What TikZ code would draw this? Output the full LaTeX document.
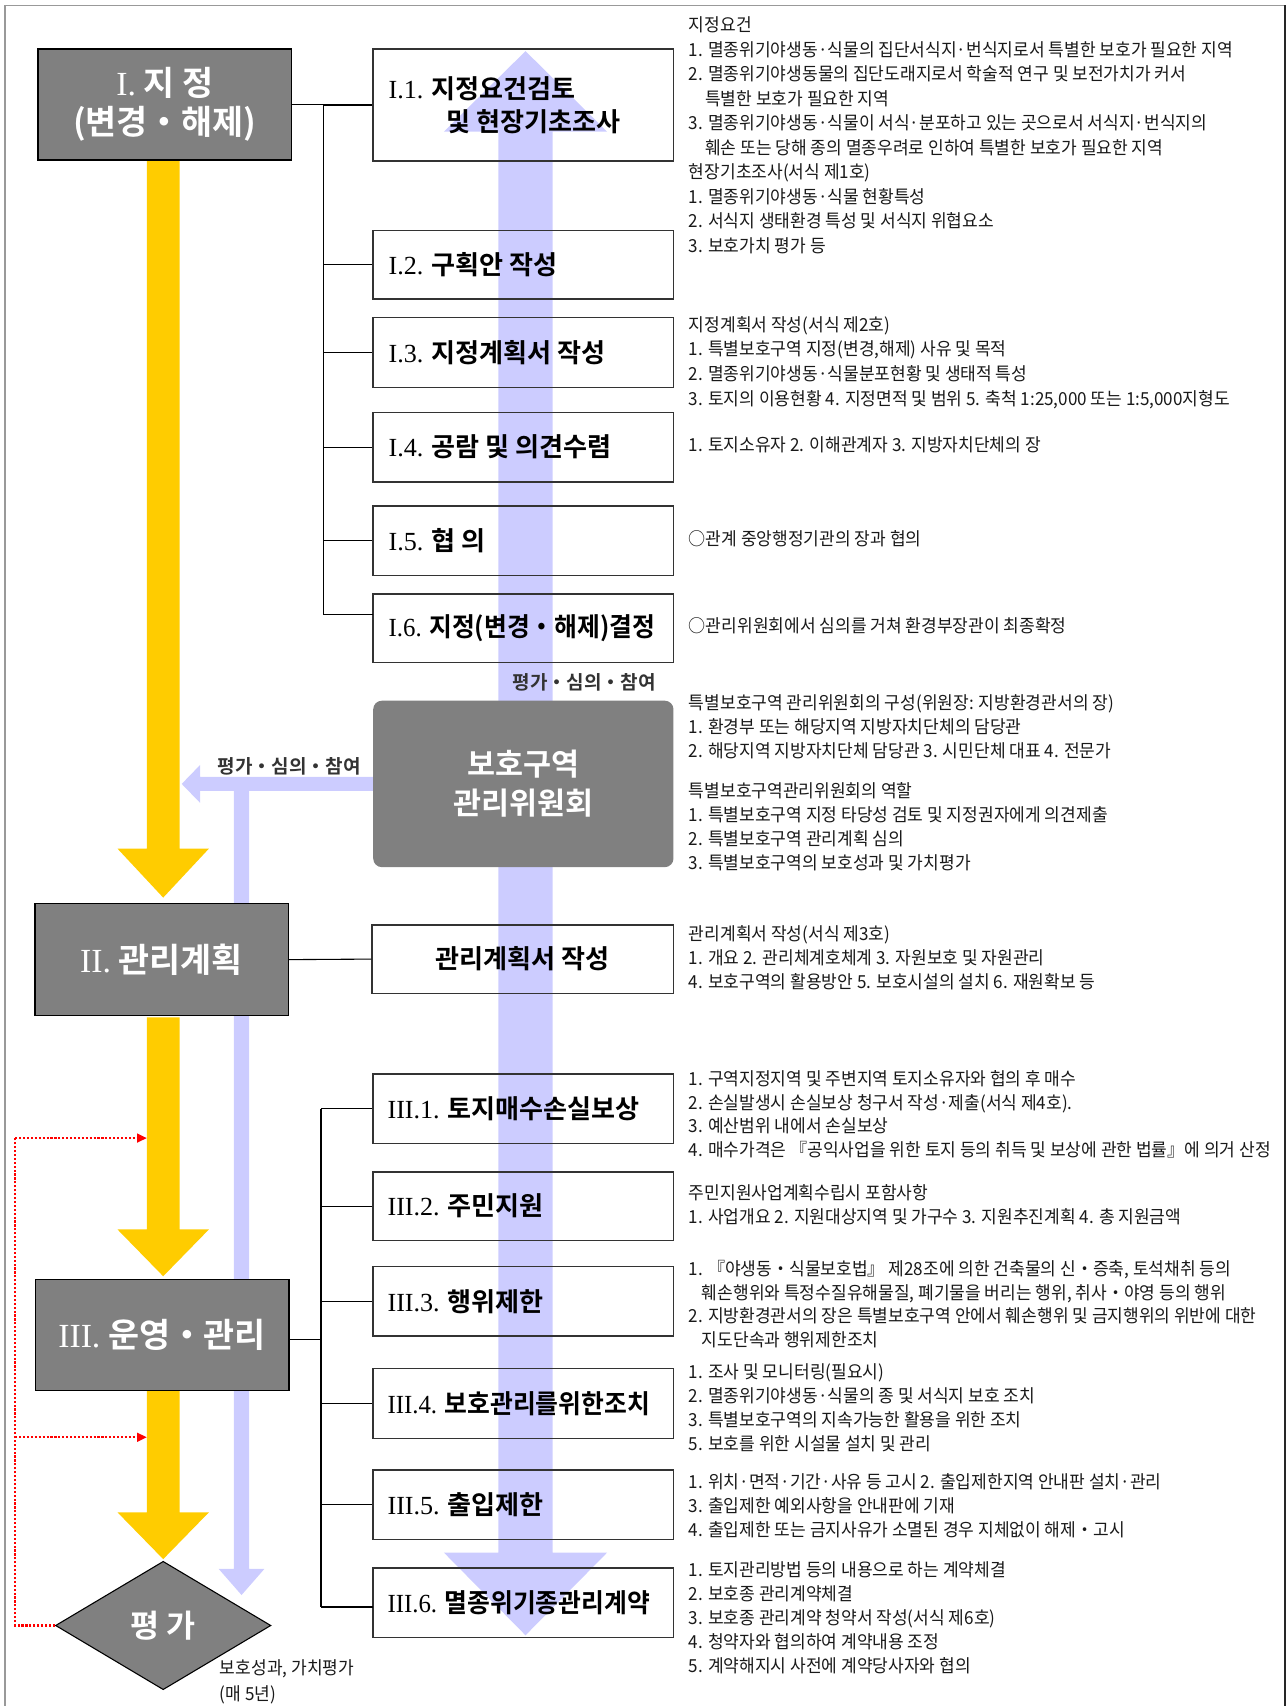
\documentclass[tikz,border=0pt]{standalone}
\usepackage{fontspec}
\usepackage{graphicx}
\setmainfont{Noto Sans CJK KR}
\newfontfamily\kr[FakeStretch=0.95]{Noto Sans CJK KR}
\newfontfamily\krb{Noto Sans CJK KR Bold}
\newfontfamily\lser{Liberation Serif}
\usetikzlibrary{arrows.meta,shapes.geometric}
\definecolor{ylw}{HTML}{FFCC00}
\definecolor{lav}{HTML}{CCCCFF}
\definecolor{dgray}{HTML}{808080}
\newcommand\tblk[5]{\foreach \tx [count=\ti] in {#5} {\node[rt] (#1\ti) at (#2, {#3+(\ti-1)*#4+6.3}) {\tx};}}
\begin{document}
\begin{tikzpicture}[x=1pt,y=-1pt,
  rbox/.style={draw=black!80, line width=1.3pt, minimum width=276pt, inner sep=0pt},
  mbox/.style={draw=black, line width=1.5pt, fill=dgray, minimum width=233pt, minimum height=102pt, inner sep=0pt, text=white, align=center, font=\krb\fontsize{31}{36}\selectfont},
  ttl/.style={anchor=west, inner sep=0pt, font=\krb\fontsize{24}{28}\selectfont},
  rt/.style={anchor=base west, inner sep=0pt, font=\kr\fontsize{16.5}{20}\selectfont, text=black!90},
  lbl/.style={inner sep=0pt, font=\krb\fontsize{17.5}{20}\selectfont, text=black!80},
  tree/.style={line width=1pt, black},
  reddot/.style={red, line width=2pt, dash pattern=on 2pt off 1.6pt},
  redarr/.style={reddot, -{Triangle[length=9pt,width=8pt]}}]
\useasboundingbox (0,0) rectangle (1183,1568);
% frame
\draw[black!40, line width=1pt] (4.6,1568) -- (4.6,5) -- (1181,5);
\draw[black!85, line width=1.3pt] (1181,5) -- (1181,1568);
% yellow arrows
\fill[ylw] (135,147) -- (135,780) -- (108,780) -- (150,825) -- (192,780) -- (165,780) -- (165,147) -- cycle;
\fill[ylw] (135,935) -- (135,1130) -- (108,1130) -- (150,1173) -- (192,1130) -- (165,1130) -- (165,935) -- cycle;
\fill[ylw] (135,1278) -- (135,1390) -- (108,1390) -- (150,1433) -- (192,1390) -- (165,1390) -- (165,1278) -- cycle;
% lavender arrows
\fill[lav] (458,720) -- (458,121) -- (408,121) -- (483,47) -- (558,121) -- (508,121) -- (508,720) -- cycle;
\fill[lav] (458,720) -- (458,1427) -- (408,1427) -- (483,1503) -- (558,1427) -- (508,1427) -- (508,720) -- cycle;
\fill[lav] (343,714) -- (184,714) -- (184,703) -- (167,720.5) -- (184,738) -- (184,727) -- (343,727) -- cycle;
\fill[lav] (215,720) -- (215,1442) -- (201,1442) -- (222,1466) -- (243,1442) -- (229,1442) -- (229,720) -- cycle;
% main left boxes
\node[mbox] (bI) at (151.5,96) {{\lser I.} 지 정\\(변경・해제)};
\node[mbox, minimum height=103pt] (bII) at (148.5,882) {{\lser II.} 관리계획};
\node[mbox] (bIII) at (149,1227) {{\lser III.} 운영・관리};
\node[diamond, draw=black, line width=1pt, fill=dgray, minimum width=198pt, minimum height=118pt, inner sep=0pt, aspect=1.68, text=white, font=\krb\fontsize{29}{30}\selectfont] (eval) at (150,1494) {평 가};
% committee
\node[fill=dgray, rounded corners=8pt, minimum width=276pt, minimum height=153pt, inner sep=0pt, text=white, align=center, font=\krb\fontsize{28}{36}\selectfont] (comm) at (481,720.5) {보호구역\\관리위원회};
% right boxes
\node[rbox, minimum height=103pt] (b11) at (481,96.5) {};
\node[rbox, minimum height=63pt] (b12) at (481,243.5) {};
\node[rbox, minimum height=64pt] (b13) at (481,324) {};
\node[rbox, minimum height=64pt] (b14) at (481,411) {};
\node[rbox, minimum height=64pt] (b15) at (481,497) {};
\node[rbox, minimum height=63pt] (b16) at (481,577.5) {};
\node[rbox, minimum width=277pt, minimum height=63pt, font=\krb\fontsize{24}{28}\selectfont] (b2) at (480.5,881.5) {관리계획서 작성};
\node[rbox, minimum height=64pt] (b31) at (481,1019) {};
\node[rbox, minimum height=63pt] (b32) at (481,1108.5) {};
\node[rbox, minimum height=64pt] (b33) at (481,1196) {};
\node[rbox, minimum height=64pt] (b34) at (481,1290) {};
\node[rbox, minimum height=64pt] (b35) at (481,1383) {};
\node[rbox, minimum height=64pt] (b36) at (481,1473) {};
% titles
\node[ttl] (b11t) at (357,82) {{\lser I.1.} 지정요건검토};
\node[ttl] (b11u) at (410,112) {및 현장기초조사};
\node[ttl] (b12t) at (357,243.5) {{\lser I.2.} 구획안 작성};
\node[ttl] (b13t) at (357,324) {{\lser I.3.} 지정계획서 작성};
\node[ttl] (b14t) at (357,411) {{\lser I.4.} 공람 및 의견수렴};
\node[ttl] (b15t) at (357,497) {{\lser I.5.} 협 의};
\node[ttl] (b16t) at (357,577.5) {\scalebox{0.95}[1]{{\lser I.6.} 지정(변경・해제)결정}};
\node[ttl] (b31t) at (356,1019) {{\lser III.1.} 토지매수손실보상};
\node[ttl] (b32t) at (356,1108.5) {{\lser III.2.} 주민지원};
\node[ttl] (b33t) at (356,1196) {{\lser III.3.} 행위제한};
\node[ttl] (b34t) at (356,1290) {\scalebox{0.95}[1]{{\lser III.4.} 보호관리를위한조치}};
\node[ttl] (b35t) at (356,1383) {{\lser III.5.} 출입제한};
\node[ttl] (b36t) at (356,1473) {\scalebox{0.95}[1]{{\lser III.6.} 멸종위기종관리계약}};
% tree connectors
\draw[tree] (bI.east) -- (297,96) -- (297,565);
\draw[tree] (297,96.5) -- (b11.west);
\draw[tree] (297,243.5) -- (b12.west);
\draw[tree] (297,324) -- (b13.west);
\draw[tree] (297,411) -- (b14.west);
\draw[tree] (297,497) -- (b15.west);
\draw[tree] (297,565) -- (343,565);
\draw[tree] (bII.east) -- (b2.west);
\draw[tree] ([yshift=-4pt]bIII.east) -- (295,1231);
\draw[tree] (295,1019) -- (295,1477);
\draw[tree] (295,1019) -- (b31.west);
\draw[tree] (295,1108.5) -- (b32.west);
\draw[tree] (295,1196) -- (b33.west);
\draw[tree] (295,1290) -- (b34.west);
\draw[tree] (295,1383) -- (b35.west);
\draw[tree] (295,1477) -- (343,1477);
% red dotted feedback
\coordinate (rA) at (135,1046);
\coordinate (rB) at (135,1321);
\draw[reddot] (eval.west) -- (14,1494) -- (14,1046);
\draw[redarr] (14,1046) -- (rA);
\draw[redarr] (14,1321) -- (rB);
% labels
\node[lbl] (lab1) at (537,627) {평가・심의・참여};
\node[lbl] (lab2) at (266,704) {평가・심의・참여};
\node[rt] (ev1) at (202,1539.3) {보호성과, 가치평가};
\node[rt] (ev2) at (202,1563.3) {(매 5년)};
% right text blocks
\tblk{A}{633}{23}{22.5}{{지정요건},{1. 멸종위기야생동·식물의 집단서식지·번식지로서 특별한 보호가 필요한 지역},{2. 멸종위기야생동물의 집단도래지로서 학술적 연구 및 보전가치가 커서},{\hspace*{15pt}특별한 보호가 필요한 지역},{3. 멸종위기야생동·식물이 서식·분포하고 있는 곳으로서 서식지·번식지의},{\hspace*{15pt}훼손 또는 당해 종의 멸종우려로 인하여 특별한 보호가 필요한 지역},{현장기초조사(서식 제1호)},{1. 멸종위기야생동·식물 현황특성},{2. 서식지 생태환경 특성 및 서식지 위협요소},{3. 보호가치 평가 등}}
\tblk{C}{633}{298}{22.7}{{지정계획서 작성(서식 제2호)},{1. 특별보호구역 지정(변경,해제) 사유 및 목적},{2. 멸종위기야생동·식물분포현황 및 생태적 특성},{3. 토지의 이용현황 4. 지정면적 및 범위 5. 축척 1:25,000 또는 1:5,000지형도}}
\tblk{D}{633}{409}{22}{{1. 토지소유자 2. 이해관계자 3. 지방자치단체의 장}}
\tblk{E}{633}{495}{22}{{○관계 중앙행정기관의 장과 협의}}
\tblk{F}{633}{575}{22}{{○관리위원회에서 심의를 거쳐 환경부장관이 최종확정}}
\tblk{G}{633}{646}{22}{{특별보호구역 관리위원회의 구성(위원장: 지방환경관서의 장)},{1. 환경부 또는 해당지역 지방자치단체의 담당관},{2. 해당지역 지방자치단체 담당관 3. 시민단체 대표 4. 전문가}}
\tblk{H}{633}{727}{22}{{특별보호구역관리위원회의 역할},{1. 특별보호구역 지정 타당성 검토 및 지정권자에게 의견제출},{2. 특별보호구역 관리계획 심의},{3. 특별보호구역의 보호성과 및 가치평가}}
\tblk{K}{633}{858}{22}{{관리계획서 작성(서식 제3호)},{1. 개요 2. 관리체계호체계 3. 자원보호 및 자원관리},{4. 보호구역의 활용방안 5. 보호시설의 설치 6. 재원확보 등}}
\tblk{L}{633}{991}{22}{{1. 구역지정지역 및 주변지역 토지소유자와 협의 후 매수},{2. 손실발생시 손실보상 청구서 작성·제출(서식 제4호).},{3. 예산범위 내에서 손실보상},{4. 매수가격은 『공익사업을 위한 토지 등의 취득 및 보상에 관한 법률』에 의거 산정}}
\tblk{M}{633}{1096}{22}{{주민지원사업계획수립시 포함사항},{1. 사업개요 2. 지원대상지역 및 가구수 3. 지원추진계획 4. 총 지원금액}}
\tblk{N}{633}{1166}{21.7}{{1. 『야생동・식물보호법』 제28조에 의한 건축물의 신・증축, 토석채취 등의},{\hspace*{12pt}훼손행위와 특정수질유해물질, 폐기물을 버리는 행위, 취사・야영 등의 행위},{2. 지방환경관서의 장은 특별보호구역 안에서 훼손행위 및 금지행위의 위반에 대한},{\hspace*{12pt}지도단속과 행위제한조치}}
\tblk{P}{633}{1261}{22}{{1. 조사 및 모니터링(필요시)},{2. 멸종위기야생동·식물의 종 및 서식지 보호 조치},{3. 특별보호구역의 지속가능한 활용을 위한 조치},{5. 보호를 위한 시설물 설치 및 관리}}
\tblk{Q}{633}{1362}{22}{{1. 위치·면적·기간·사유 등 고시 2. 출입제한지역 안내판 설치·관리},{3. 출입제한 예외사항을 안내판에 기재},{4. 출입제한 또는 금지사유가 소멸된 경우 지체없이 해제・고시}}
\tblk{R}{633}{1443}{22}{{1. 토지관리방법 등의 내용으로 하는 계약체결},{2. 보호종 관리계약체결},{3. 보호종 관리계약 청약서 작성(서식 제6호)},{4. 청약자와 협의하여 계약내용 조정},{5. 계약해지시 사전에 계약당사자와 협의}}
\end{tikzpicture}
\end{document}
